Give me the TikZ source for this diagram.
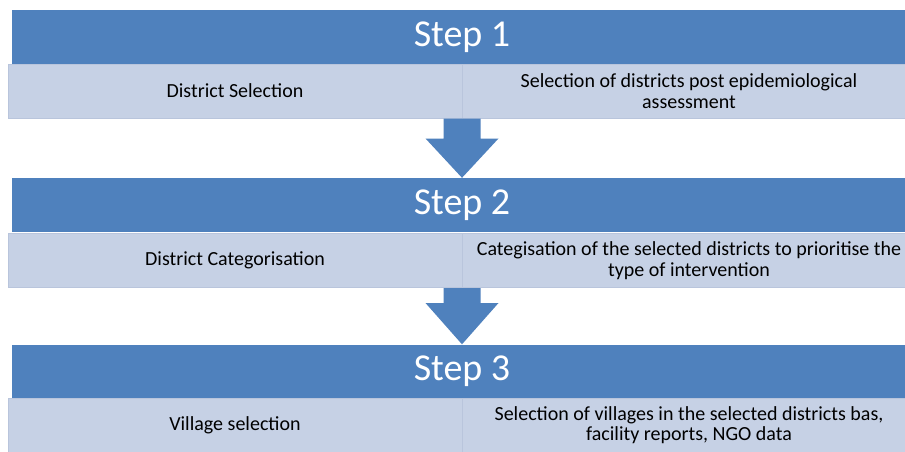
\documentclass[tikz,border=0pt]{standalone}
\usepackage{fontspec}
\setmainfont{Carlito}
\usetikzlibrary{calc}
\definecolor{hdrblue}{HTML}{4F81BD}
\definecolor{rowblue}{HTML}{C6D1E5}
\definecolor{rowedge}{HTML}{B9C5DC}
\tikzset{
  hdr/.style={fill=hdrblue, draw=none, minimum width=900pt, minimum height=54pt, inner sep=0pt, text=white, font=\fontsize{38}{38}\selectfont},
  cell/.style={fill=rowblue, draw=rowedge, line width=1pt, minimum width=454pt, minimum height=54pt, inner sep=0pt, align=center, text=black, font=\fontsize{20}{20.5}\selectfont},
  arrowfill/.style={fill=hdrblue, draw=none}
}
\begin{document}
\begin{tikzpicture}[x=1pt,y=-1pt]
\useasboundingbox (0,0) rectangle (905,451);
\clip (0,0) rectangle (905,451);
\fill[white] (0,0) rectangle (905,451);
% Step 1
\node[hdr] (h1) at (462,37) {Step 1};
\node[cell] (l1) at (235,91) {District Selection};
\node[cell] (r1) at (689,91) {Selection of districts post epidemiological\\assessment};
% Step 2
\node[hdr] (h2) at (462,205) {Step 2};
\node[cell] (l2) at (235,260.5) {District Categorisation};
\node[cell] (r2) at (689,260.5) {Categisation of the selected districts to prioritise the\\type of intervention};
% Step 3
\node[hdr] (h3) at (462,371.5) {Step 3};
\node[cell] (l3) at (235,425) {Village selection};
\node[cell] (r3) at (689,425) {Selection of villages in the selected districts bas,\\facility reports, NGO data};
% arrows
\coordinate (a1) at ($(l1.south east)!0.5!(r1.south west)$);
\coordinate (a2) at ($(l2.south east)!0.5!(r2.south west)$);
\fill[arrowfill] ($(a1)+(-18.5,0)$) -- ($(a1)+(18.5,0)$) -- ($(a1)+(18.5,20)$) -- ($(a1)+(36.5,20)$) -- (h2.north) -- ($(a1)+(-36.5,20)$) -- ($(a1)+(-18.5,20)$) -- cycle;
\fill[arrowfill] ($(a2)+(-18.5,0)$) -- ($(a2)+(18.5,0)$) -- ($(a2)+(18.5,15)$) -- ($(a2)+(36.5,15)$) -- (h3.north) -- ($(a2)+(-36.5,15)$) -- ($(a2)+(-18.5,15)$) -- cycle;
\end{tikzpicture}
\end{document}
